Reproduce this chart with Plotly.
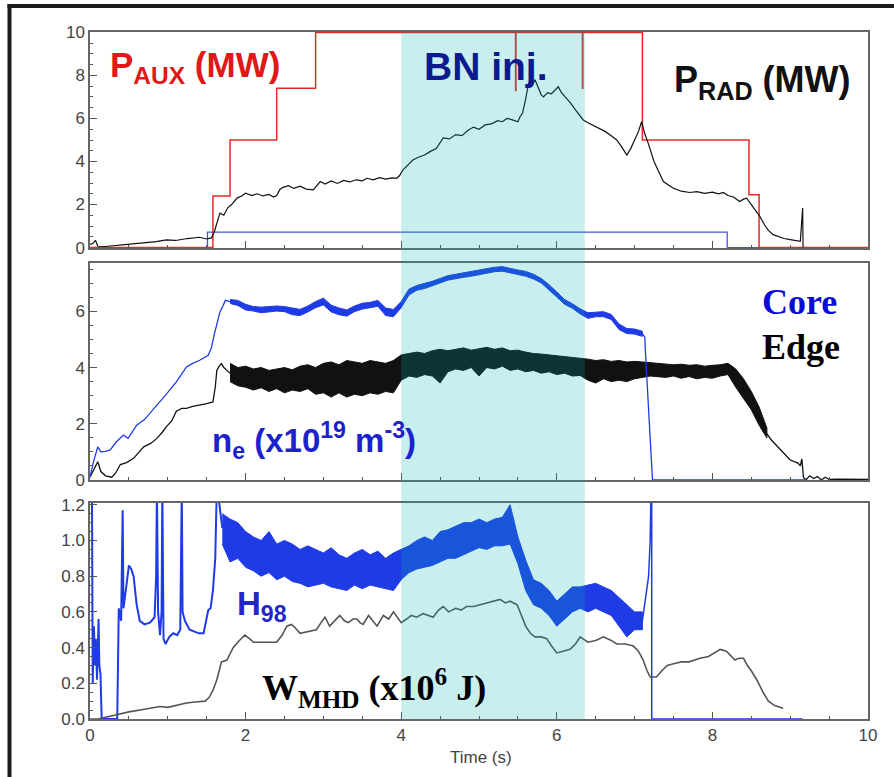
import plotly.graph_objects as go
import numpy as np

# ---------------- DATA ----------------
# Top panel: radiated power (MW)
prad_t = [0.0, 0.04, 0.07, 0.1, 0.2, 0.3, 0.45, 0.55, 0.7, 0.85, 0.98, 1.1, 1.25, 1.41, 1.5, 1.56, 1.6, 1.64,
          1.67, 1.72, 1.77, 1.82, 1.89, 1.95, 2.0, 2.08, 2.15, 2.22, 2.3, 2.36, 2.4, 2.44, 2.48, 2.55, 2.62, 2.7,
          2.78, 2.87, 2.92, 2.96, 3.02, 3.1, 3.18, 3.26, 3.34, 3.42, 3.5, 3.56, 3.64, 3.72, 3.8, 3.88, 3.94, 3.98,
          4.02, 4.08, 4.15, 4.22, 4.3, 4.37, 4.45, 4.54, 4.62, 4.7, 4.78, 4.86, 4.93, 5.0, 5.08, 5.16, 5.24, 5.3,
          5.36, 5.42, 5.5, 5.53, 5.56, 5.6, 5.63, 5.66, 5.69, 5.72, 5.76, 5.8, 5.83, 5.88, 5.93, 5.98, 6.02, 6.06,
          6.1, 6.13, 6.18, 6.24, 6.3, 6.34, 6.4, 6.48, 6.55, 6.62, 6.7, 6.77, 6.83, 6.9, 6.95, 7.0, 7.05, 7.09,
          7.13, 7.17, 7.2, 7.25, 7.3, 7.37, 7.44, 7.5, 7.6, 7.71, 7.8, 7.9, 8.0, 8.08, 8.14, 8.2, 8.27, 8.35, 8.4,
          8.44, 8.5, 8.56, 8.61, 8.67, 8.72, 8.78, 8.85, 8.92, 9.0, 9.08, 9.13, 9.16, 9.165]
prad_v = [0.15, 0.2, 0.34, 0.06, 0.05, 0.1, 0.14, 0.17, 0.22, 0.28, 0.36, 0.33, 0.42, 0.48, 0.4, 0.45, 0.76, 1.2,
          1.6, 1.5, 1.85, 2.0, 2.3, 2.4, 2.53, 2.42, 2.5, 2.4, 2.47, 2.35, 2.42, 2.7, 2.8, 2.88, 2.75, 2.85,
          2.72, 2.68, 2.9, 3.07, 2.95, 3.1, 2.98, 3.12, 3.05, 3.15, 3.1, 3.22, 3.15, 3.25, 3.18, 3.24, 3.22, 3.35,
          3.6, 3.8, 4.07, 4.2, 4.3, 4.46, 4.6, 5.1, 5.05, 5.25, 5.2, 5.45, 5.6, 5.5, 5.7, 5.75, 5.9, 5.85,
          6.0, 5.95, 5.85, 6.1, 6.25, 6.9, 7.5, 7.85, 7.6, 7.8, 7.4, 7.1, 7.0, 7.2, 7.15, 7.35, 7.47, 7.2,
          7.05, 6.93, 6.7, 6.4, 6.1, 5.93, 5.8, 5.65, 5.54, 5.4, 5.2, 5.0, 4.7, 4.3, 4.6, 5.0, 5.4, 5.85,
          5.3, 4.9, 4.54, 4.0, 3.6, 3.07, 2.9, 2.76, 2.62, 2.56, 2.6, 2.52, 2.58, 2.5, 2.56, 2.42, 2.35, 2.14, 2.25,
          2.3, 2.0, 1.7, 1.45, 1.05, 0.8, 0.6, 0.5, 0.42, 0.37, 0.32, 0.29, 1.84, 0.0]

# Auxiliary heating power (MW), step trace
paux_t = [0.0, 1.58, 1.8, 2.4, 2.9, 5.47, 5.475, 6.33, 6.335, 7.1, 8.47, 8.6, 10.0]
paux_v = [0.0, 2.4, 5.0, 7.4, 10.0, 7.3, 10.0, 7.4, 10.0, 5.0, 2.45, 0.0, 0.0]

# Second heating source (MW), step trace
pec_t = [0.0, 1.51, 8.19, 10.0]
pec_v = [0.0, 0.72, 0.0, 0.0]

# Middle panel: density (1e19 m^-3)
core_ramp_t = [0.0, 0.05, 0.1, 0.14, 0.2, 0.26, 0.34, 0.43, 0.49, 0.6, 0.7, 0.77, 0.88, 0.99, 1.11, 1.24, 1.32,
               1.41, 1.52, 1.56, 1.6, 1.64, 1.67, 1.71, 1.74, 1.8]
core_ramp_v = [0.1, 0.7, 1.18, 1.0, 1.02, 1.07, 1.36, 1.6, 1.48, 1.95, 2.15, 2.37, 2.7, 3.08, 3.49, 4.02, 4.15,
               4.26, 4.44, 4.7, 5.21, 5.7, 5.98, 6.2, 6.39, 6.35]
band_t_core = [1.8, 1.9, 2.0, 2.1, 2.2, 2.3, 2.4, 2.5, 2.6, 2.7, 2.8, 2.9, 3.0, 3.1, 3.2, 3.3, 3.4, 3.5, 3.6, 3.7,
               3.8, 3.9, 4.0, 4.1, 4.2, 4.3, 4.4, 4.5, 4.6, 4.7, 4.8, 4.9, 5.0, 5.1, 5.2, 5.3, 5.4, 5.5, 5.6, 5.7,
               5.8, 5.9, 6.0, 6.1, 6.2, 6.3, 6.4, 6.5, 6.6, 6.7, 6.8, 6.9, 7.0, 7.1]
core_hi = [6.42, 6.39, 6.25, 6.17, 6.15, 6.17, 6.19, 6.17, 6.11, 6.07, 6.19, 6.35, 6.47, 6.22, 6.12, 6.05, 6.19,
           6.29, 6.32, 6.39, 6.12, 6.07, 6.35, 6.79, 6.92, 6.99, 7.07, 7.17, 7.27, 7.32, 7.37, 7.42, 7.47, 7.52,
           7.57, 7.59, 7.52, 7.47, 7.42, 7.32, 7.17, 6.95, 6.69, 6.42, 6.27, 6.09, 5.95, 5.97, 5.99, 5.89, 5.55,
           5.39, 5.37, 5.29]
core_lo = [6.28, 6.21, 6.05, 6.01, 5.95, 5.98, 6.01, 5.99, 5.88, 5.85, 5.98, 6.13, 6.23, 5.98, 5.88, 5.83, 5.99,
           6.08, 6.13, 6.18, 5.85, 5.81, 6.13, 6.58, 6.75, 6.81, 6.91, 7.01, 7.11, 7.15, 7.21, 7.25, 7.31, 7.35,
           7.41, 7.43, 7.36, 7.31, 7.25, 7.15, 7.01, 6.75, 6.51, 6.25, 6.11, 5.91, 5.75, 5.81, 5.81, 5.71, 5.35,
           5.21, 5.19, 5.11]
core_drop_t = [7.1, 7.13, 7.15, 7.17, 7.19, 7.21, 7.23, 7.25, 9.2]
core_drop_v = [5.2, 5.1, 4.0, 3.0, 2.4, 1.2, 0.0, 0.0, 0.0]

edge_ramp_t = [0.0, 0.05, 0.1, 0.14, 0.2, 0.28, 0.33, 0.39, 0.47, 0.56, 0.62, 0.69, 0.78, 0.86, 0.93, 0.98, 1.05,
               1.11, 1.18, 1.24, 1.32, 1.41, 1.5, 1.58, 1.61, 1.63, 1.66, 1.69, 1.72, 1.76, 1.8]
edge_ramp_v = [0.1, 0.4, 0.65, 0.3, 0.15, 0.1, 0.25, 0.55, 0.62, 0.77, 0.95, 1.18, 1.3, 1.48, 1.7, 1.89, 2.1,
               2.45, 2.55, 2.55, 2.62, 2.66, 2.72, 2.78, 3.3, 3.9, 4.05, 4.14, 4.0, 3.9, 3.8]
band_t_edge = [1.8, 1.9, 2.0, 2.1, 2.2, 2.3, 2.4, 2.5, 2.6, 2.7, 2.8, 2.9, 3.0, 3.1, 3.2, 3.3, 3.4, 3.5, 3.6, 3.7,
               3.8, 3.9, 4.0, 4.1, 4.2, 4.3, 4.4, 4.5, 4.6, 4.7, 4.8, 4.9, 5.0, 5.1, 5.2, 5.3, 5.4, 5.5, 5.6, 5.7,
               5.8, 5.9, 6.0, 6.1, 6.2, 6.3, 6.4, 6.5, 6.6, 6.7, 6.8, 6.9, 7.0, 7.1, 7.2, 7.3, 7.4, 7.5, 7.6, 7.7,
               7.8, 7.9, 8.0, 8.1, 8.2, 8.3, 8.4, 8.5, 8.6, 8.7]
edge_hi = [4.15, 4.0, 4.05, 3.95, 4.0, 3.9, 3.95, 4.0, 3.92, 4.05, 4.1, 4.0, 4.15, 4.2, 4.1, 4.25, 4.2, 4.15, 4.25,
           4.2, 4.15, 4.25, 4.45, 4.5, 4.55, 4.5, 4.6, 4.65, 4.6, 4.65, 4.7, 4.62, 4.68, 4.72, 4.65, 4.7, 4.6, 4.62,
           4.55, 4.5, 4.48, 4.45, 4.42, 4.4, 4.38, 4.35, 4.3, 4.25, 4.28, 4.22, 4.25, 4.2, 4.22, 4.2, 4.18, 4.15,
           4.12, 4.1, 4.12, 4.08, 4.1, 4.05, 4.08, 4.1, 4.15, 3.95, 3.6, 3.15, 2.6, 1.85]
edge_lo = [3.5, 3.35, 3.3, 3.2, 3.28, 3.15, 3.25, 3.1, 3.2, 3.15, 3.25, 3.05, 3.1, 2.95, 3.1, 2.95, 3.05, 3.0, 3.1,
           3.05, 3.15, 3.1, 3.55, 3.7, 3.65, 3.75, 3.7, 3.45, 3.85, 3.95, 3.9, 4.0, 3.7, 4.0, 3.95, 4.05, 3.9, 3.95,
           3.85, 3.9, 3.8, 3.85, 3.75, 3.8, 3.7, 3.72, 3.55, 3.45, 3.6, 3.5, 3.55, 3.5, 3.6, 3.65, 3.7, 3.68,
           3.65, 3.7, 3.62, 3.68, 3.6, 3.65, 3.62, 3.7, 3.75, 3.3, 2.9, 2.5, 1.95, 1.5]
edge_tail_t = [8.7, 8.75, 8.8, 8.9, 9.0, 9.1, 9.13, 9.15, 9.17, 9.2, 9.25, 9.3, 9.35, 9.4, 9.45, 9.5, 9.6, 10.0]
edge_tail_v = [1.65, 1.45, 1.3, 1.0, 0.71, 0.6, 0.5, 0.75, 0.1, 0.0, 0.15, 0.05, 0.12, 0.0, 0.1, 0.02, 0.03, 0.02]

# Bottom panel: H98 confinement factor and stored energy (MJ)
h98_early_t = [0.0, 0.025, 0.035, 0.05, 0.065, 0.075, 0.09, 0.1, 0.11, 0.12, 0.135, 0.15, 0.35, 0.37, 0.4, 0.42,
               0.43, 0.46, 0.5, 0.53, 0.56, 0.6, 0.64, 0.7, 0.77, 0.83, 0.85, 0.86, 0.875, 0.9, 0.92, 0.93, 0.945,
               0.97, 1.02, 1.07, 1.12, 1.16, 1.17, 1.18, 1.19, 1.22, 1.28, 1.33, 1.4, 1.46, 1.5, 1.52, 1.55, 1.58,
               1.61, 1.63, 1.65, 1.7]
h98_early_v = [1.3, 1.3, 0.2, 0.52, 0.3, 0.45, 0.22, 0.4, 0.56, 0.3, 0.25, 0.0, 0.0, 0.62, 0.55, 1.17,
               0.62, 0.72, 0.86, 0.84, 0.8, 0.64, 0.55, 0.53, 0.54, 0.57, 0.8, 1.3, 0.6, 0.47, 0.6, 1.3, 0.45,
               0.42, 0.46, 0.48, 0.47, 0.5, 0.8, 1.3, 0.6, 0.55, 0.5, 0.49, 0.48, 0.48, 0.56, 0.61, 0.62, 0.72,
               0.9, 1.3, 1.25, 1.07]
band_t_h98 = [1.7, 1.8, 1.9, 2.0, 2.1, 2.2, 2.3, 2.4, 2.5, 2.6, 2.7, 2.8, 2.9, 3.0, 3.1, 3.2, 3.3, 3.4, 3.5, 3.6,
              3.7, 3.8, 3.9, 4.0, 4.1, 4.2, 4.3, 4.4, 4.5, 4.6, 4.7, 4.8, 4.9, 5.0, 5.1, 5.2, 5.3, 5.4, 5.5, 5.6,
              5.7, 5.8, 5.9, 6.0, 6.1, 6.2, 6.3, 6.4, 6.5, 6.6, 6.7, 6.8, 6.9, 7.0, 7.1]
h98_hi = [1.15, 1.12, 1.1, 1.05, 1.02, 1.0, 1.05, 0.98, 1.0, 0.98, 0.95, 0.97, 0.95, 0.93, 0.96, 0.92, 0.9, 0.93,
          0.95, 0.92, 0.94, 0.9, 0.93, 0.95, 0.97, 1.0, 1.02, 1.0, 1.05, 1.06, 1.08, 1.1, 1.1, 1.12, 1.1, 1.12, 1.13,
          1.2, 1.02, 0.89, 0.78, 0.76, 0.72, 0.66, 0.7, 0.74, 0.74, 0.75, 0.76, 0.74, 0.72, 0.68, 0.64, 0.6, 0.6]
h98_lo = [0.98, 0.88, 0.9, 0.85, 0.83, 0.8, 0.82, 0.78, 0.8, 0.77, 0.76, 0.74, 0.75, 0.76, 0.74, 0.73, 0.72, 0.75,
          0.73, 0.75, 0.74, 0.73, 0.72, 0.78, 0.82, 0.84, 0.85, 0.86, 0.88, 0.9, 0.9, 0.92, 0.94, 0.96, 0.95, 0.97,
          0.97, 0.98, 0.87, 0.72, 0.64, 0.62, 0.58, 0.52, 0.56, 0.6, 0.62, 0.6, 0.62, 0.6, 0.58, 0.52, 0.46, 0.5, 0.5]
h98_tail_t = [7.1, 7.15, 7.18, 7.2, 7.22, 7.22, 9.16]
h98_tail_v = [0.55, 0.72, 0.8, 1.0, 1.5, 0.0, 0.0]

wmhd_t = [0.0, 0.1, 0.3, 0.5, 0.7, 0.9, 1.0, 1.1, 1.24, 1.35, 1.48, 1.53, 1.58, 1.63, 1.69, 1.76, 1.84, 1.92, 1.99,
          2.05, 2.1, 2.25, 2.4, 2.47, 2.53, 2.59, 2.64, 2.7, 2.8, 2.91, 2.97, 3.02, 3.08, 3.15, 3.21, 3.27, 3.32,
          3.38, 3.43, 3.47, 3.51, 3.58, 3.64, 3.69, 3.77, 3.84, 3.9, 3.95, 4.0, 4.07, 4.13, 4.2, 4.28, 4.35, 4.41,
          4.48, 4.54, 4.61, 4.7, 4.77, 4.84, 4.93, 5.01, 5.1, 5.2, 5.27, 5.34, 5.4, 5.49, 5.55, 5.6, 5.66, 5.72,
          5.8, 5.87, 5.93, 6.0, 6.08, 6.17, 6.24, 6.3, 6.4, 6.5, 6.6, 6.7, 6.77, 6.88, 6.98, 7.05, 7.11, 7.16, 7.2,
          7.28, 7.35, 7.42, 7.5, 7.6, 7.7, 7.84, 7.95, 8.03, 8.1, 8.18, 8.24, 8.29, 8.34, 8.4, 8.45, 8.5, 8.57,
          8.65, 8.72, 8.8, 8.91]
wmhd_v = [0.0, 0.0, 0.02, 0.04, 0.055, 0.07, 0.065, 0.075, 0.09, 0.095, 0.1, 0.12, 0.16, 0.22, 0.32, 0.33, 0.4,
          0.44, 0.47, 0.45, 0.43, 0.43, 0.43, 0.47, 0.52, 0.53, 0.51, 0.48, 0.49, 0.5, 0.54, 0.57, 0.52, 0.55,
          0.58, 0.55, 0.54, 0.56, 0.56, 0.54, 0.53, 0.58, 0.55, 0.52, 0.58, 0.56, 0.6, 0.57, 0.54, 0.56, 0.58,
          0.57, 0.59, 0.58, 0.57, 0.61, 0.63, 0.6, 0.62, 0.61, 0.63, 0.63, 0.64, 0.65, 0.66, 0.67, 0.65, 0.66,
          0.64, 0.58, 0.52, 0.48, 0.46, 0.46, 0.45, 0.41, 0.37, 0.38, 0.39, 0.42, 0.46, 0.43, 0.44, 0.46, 0.44,
          0.42, 0.42, 0.41, 0.38, 0.33, 0.27, 0.235, 0.235, 0.27, 0.3, 0.31, 0.32, 0.32, 0.34, 0.35, 0.37, 0.39,
          0.38, 0.35, 0.33, 0.34, 0.34, 0.3, 0.27, 0.22, 0.15, 0.1, 0.075, 0.06]

bn_window = [4.0, 6.36]   # BN injection interval (s)
x_ticks = [0, 2, 4, 6, 8, 10]

# ---------------- FIGURE ----------------
W, H = 894, 777
L, R, T, B = 90, 26, 32, 58
PW, PH = W - L - R, H - T - B


def px(x):
    return (x - L) / PW


def py(y):
    return (H - B - y) / PH


dom_top = [py(248), 1.0]
dom_mid = [py(480), py(263)]
dom_bot = [0.0, py(503)]

fig = go.Figure()


def line(x, y, color, width, xa, ya, shape="linear"):
    fig.add_trace(go.Scatter(x=x, y=y, mode="lines", line=dict(color=color, width=width, shape=shape),
                             xaxis=xa, yaxis=ya, hoverinfo="skip", showlegend=False))


def band(t, hi, lo, color, xa, ya):
    fig.add_trace(go.Scatter(x=list(t) + list(t)[::-1], y=list(hi) + list(lo)[::-1], mode="lines",
                             fill="toself", fillcolor=color, line=dict(color=color, width=1),
                             xaxis=xa, yaxis=ya, hoverinfo="skip", showlegend=False))


BLUE = "#1f3be6"
# top panel
line(pec_t, pec_v, "#4a55dd", 1.3, "x3", "y3", "hv")
line(paux_t, paux_v, "#e52a2a", 1.5, "x3", "y3", "hv")
line(prad_t, prad_v, "#111111", 1.2, "x3", "y3")
# middle panel
line(edge_ramp_t, edge_ramp_v, "#111111", 1.3, "x2", "y2")
band(band_t_edge, edge_hi, edge_lo, "#111111", "x2", "y2")
line(edge_tail_t, edge_tail_v, "#111111", 1.3, "x2", "y2")
line(core_ramp_t, core_ramp_v, BLUE, 1.3, "x2", "y2")
band(band_t_core, core_hi, core_lo, BLUE, "x2", "y2")
line(core_drop_t, core_drop_v, BLUE, 1.3, "x2", "y2")
# bottom panel
line(h98_early_t, h98_early_v, BLUE, 2.0, "x", "y")
band(band_t_h98, h98_hi, h98_lo, BLUE, "x", "y")
line(h98_tail_t, h98_tail_v, BLUE, 1.5, "x", "y")
line(wmhd_t, wmhd_v, "#555555", 1.6, "x", "y")

tickfont = dict(family="Liberation Sans, Arial, sans-serif", size=17, color="#444444")
common_x = dict(range=[0, 10], tickvals=x_ticks, ticks="inside", ticklen=7, tickwidth=1.2, tickcolor="#555555",
                minor=dict(ticks="inside", ticklen=3.5, dtick=0.5, tick0=0, tickcolor="#555555", tickwidth=1),
                showline=True, linecolor="#666666", linewidth=1.5, mirror=True, showgrid=False, zeroline=False,
                tickfont=tickfont)
common_y = dict(ticks="inside", ticklen=7, tickwidth=1.2, tickcolor="#555555",
                showline=True, linecolor="#666666", linewidth=1.5, mirror=True, showgrid=False, zeroline=False,
                tickfont=tickfont)

fig.update_layout(
    width=W, height=H, margin=dict(l=L, r=R, t=T, b=B),
    paper_bgcolor="white", plot_bgcolor="white", showlegend=False,
    xaxis=dict(**common_x, anchor="y", showticklabels=True),
    xaxis2=dict(**common_x, anchor="y2", matches="x", showticklabels=False),
    xaxis3=dict(**common_x, anchor="y3", matches="x", showticklabels=False),
    yaxis=dict(**common_y, domain=dom_bot, range=[0, 1.21], dtick=0.2, tick0=0, tickformat=".1f", anchor="x",
               minor=dict(ticks="inside", ticklen=3.5, dtick=0.05, tickcolor="#555555")),
    yaxis2=dict(**common_y, domain=dom_mid, range=[0, 7.72], dtick=2, tick0=0, anchor="x2",
                minor=dict(ticks="inside", ticklen=3.5, dtick=0.5, tickcolor="#555555")),
    yaxis3=dict(**common_y, domain=dom_top, range=[-0.02, 10.02], dtick=2, tick0=0, anchor="x3",
                minor=dict(ticks="inside", ticklen=3.5, dtick=0.5, tickcolor="#555555")),
)

# BN injection window overlay
fig.add_shape(type="rect", xref="x", yref="paper", x0=bn_window[0], x1=bn_window[1], y0=0, y1=1,
              fillcolor="rgba(5,177,177,0.22)", line=dict(width=0), layer="above")

# outer frame (top and left edges)
fig.add_shape(type="line", xref="paper", yref="paper", x0=px(7.5), x1=px(894), y0=py(6), y1=py(6),
              line=dict(color="#1a1a1a", width=4))
fig.add_shape(type="line", xref="paper", yref="paper", x0=px(9.5), x1=px(9.5), y0=py(4), y1=py(777),
              line=dict(color="#1a1a1a", width=4))

SANS = "Liberation Sans, Arial, sans-serif"
SERIF = "Liberation Serif, Times New Roman, serif"


def label(text, x, y, size, color, family=SANS):
    fig.add_annotation(text=text, xref="paper", yref="paper", x=px(x), y=py(y), xanchor="left",
                       yanchor="middle", showarrow=False, font=dict(family=family, size=size, color=color))


label("<b>P<sub>AUX</sub> (MW)</b>", 108, 67, 35, "#e01818")
label("<b>BN inj.</b>", 422, 67, 39, "#0c1a90")
label("<b>P<sub>RAD</sub> (MW)</b>", 672, 82, 36, "#111111")
label("<b>Core</b>", 760, 302, 36, "#0a0ad8", SERIF)
label("<b>Edge</b>", 760, 347, 36, "#000000", SERIF)
label("<b>n<sub>e</sub> (x10<sup>19</sup> m<sup>-3</sup>)</b>", 210, 440, 33, "#1a22cc")
label("<b>H<sub>98</sub></b>", 235, 606, 33, "#2226cc")
label("<b>W<sub>MHD</sub> (x10<sup>6</sup> J)</b>", 260, 688, 36, "#000000", SERIF)

fig.add_annotation(text="Time (s)", xref="paper", yref="paper", x=px(481), y=py(757), xanchor="center",
                   yanchor="middle", showarrow=False, font=dict(family=SANS, size=17, color="#444444"))

fig.write_html("out.html")
